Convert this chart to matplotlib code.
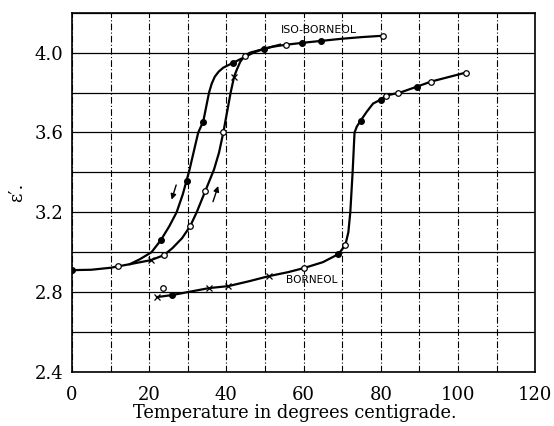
import matplotlib.pyplot as plt
from matplotlib.ticker import MultipleLocator

# curve traces
iso_heat_x = [0, 5, 10, 15, 20.4, 23.8, 26, 28.5, 30.6, 32.3, 34.5, 36.8, 38.1, 39.2, 41.1, 42, 42.7, 43.6, 44.8, 46.1, 48, 50, 52, 55.5, 60, 65, 70, 75, 80.6]
iso_heat_y = [2.91, 2.912, 2.922, 2.94, 2.96, 2.985, 3.02, 3.07, 3.13, 3.2, 3.305, 3.415, 3.5, 3.6, 3.8, 3.88, 3.915, 3.955, 3.985, 4.0, 4.01, 4.02, 4.03, 4.04, 4.05, 4.06, 4.07, 4.078, 4.085]
iso_cool_x = [15, 17.6, 20.6, 23, 25.2, 27.1, 28.7, 30.4, 32.7, 34, 35.5, 36.2, 37, 38, 39.2, 41.8, 44.4, 47, 49.8, 53.9]
iso_cool_y = [2.94, 2.965, 3.0, 3.06, 3.13, 3.2, 3.29, 3.41, 3.6, 3.655, 3.8, 3.845, 3.88, 3.905, 3.925, 3.95, 3.975, 4.0, 4.02, 4.04]
born_x = [22, 25.9, 30, 35.5, 40.5, 46, 51, 56, 60, 65, 69, 70.8, 71.6, 72.1, 72.7, 73.2, 73.8, 74.8, 76.4, 78, 80, 81.3, 85, 89.4, 93, 97, 102]
born_y = [2.775, 2.785, 2.80, 2.82, 2.83, 2.855, 2.88, 2.90, 2.92, 2.95, 2.99, 3.035, 3.1, 3.2, 3.4, 3.6, 3.63, 3.66, 3.705, 3.745, 3.765, 3.785, 3.80, 3.83, 3.855, 3.875, 3.90]

# observed points
iso_open_x = [12, 23.8, 30.6, 34.5, 39.2, 44.8, 55.5, 80.6]
iso_open_y = [2.93, 2.985, 3.13, 3.305, 3.60, 3.985, 4.04, 4.085]
iso_fill_x = [0, 23, 29.8, 34, 41.8, 49.8, 59.6, 64.5]
iso_fill_y = [2.91, 3.06, 3.355, 3.655, 3.95, 4.02, 4.05, 4.06]
iso_cross_x = [20.4, 42]
iso_cross_y = [2.96, 3.88]
born_open_x = [23.6, 60, 70.8, 81.3, 84.4, 93, 102]
born_open_y = [2.82, 2.92, 3.035, 3.785, 3.80, 3.855, 3.90]
born_fill_x = [25.9, 69, 74.8, 80, 89.4]
born_fill_y = [2.785, 2.99, 3.66, 3.765, 3.83]
born_cross_x = [22, 35.5, 40.5, 51]
born_cross_y = [2.775, 2.82, 2.83, 2.88]

fig = plt.figure(figsize=(5.54, 4.26), dpi=100)
ax = fig.add_axes([0.130, 0.127, 0.836, 0.843])

for xs, ys in [(iso_heat_x, iso_heat_y), (iso_cool_x, iso_cool_y), (born_x, born_y)]:
    ax.plot(xs, ys, color='black', lw=1.6, zorder=3, solid_joinstyle='round')

for xs, ys in [(iso_open_x, iso_open_y), (born_open_x, born_open_y)]:
    ax.plot(xs, ys, 'o', ms=4, mfc='white', mec='black', mew=0.9, zorder=4)
for xs, ys in [(iso_fill_x, iso_fill_y), (born_fill_x, born_fill_y)]:
    ax.plot(xs, ys, 'o', ms=4, color='black', zorder=4)
for xs, ys in [(iso_cross_x, iso_cross_y), (born_cross_x, born_cross_y)]:
    ax.plot(xs, ys, 'x', ms=4, color='black', mew=0.9, zorder=4)

# arrows for cooling / heating
ax.annotate('', xy=(25.6, 3.25), xytext=(27.2, 3.35),
            arrowprops=dict(arrowstyle='-|>', color='black', lw=1, mutation_scale=8))
ax.annotate('', xy=(38.1, 3.345), xytext=(36.3, 3.24),
            arrowprops=dict(arrowstyle='-|>', color='black', lw=1, mutation_scale=8))

ax.text(64, 4.115, 'ISO-BORNEOL', fontsize=7.8, ha='center', va='center')
ax.text(62, 2.86, 'BORNEOL', fontsize=7.6, ha='center', va='center')

ax.set_xlim(0, 120)
ax.set_ylim(2.4, 4.2)
ax.set_xticks(range(0, 121, 20))
ax.set_yticks([2.4, 2.8, 3.2, 3.6, 4.0])
ax.set_yticklabels(['2.4', '2.8', '3.2', '3.6', '4.0'])
ax.xaxis.set_minor_locator(MultipleLocator(10))
ax.yaxis.set_minor_locator(MultipleLocator(0.2))
ax.tick_params(which='both', length=0, labelsize=13)
ax.tick_params(axis='x', pad=10)
ax.tick_params(axis='y', pad=6)
for lab in ax.get_xticklabels() + ax.get_yticklabels():
    lab.set_family('DejaVu Serif')
ax.grid(True, axis='x', which='both', color='black', lw=0.8, ls=(0, (6, 2, 1, 2)))
ax.grid(True, axis='y', which='both', color='black', lw=0.9)
for s in ax.spines.values():
    s.set_linewidth(1.2)

ax.set_xlabel('Temperature in degrees centigrade.', family='DejaVu Serif', fontsize=12.8)
ax.xaxis.set_label_coords(0.48, -0.09)
ax.set_ylabel('\u03b5\u2032.', family='DejaVu Serif', fontsize=13, labelpad=6)

fig.savefig('out.png', dpi=100)
